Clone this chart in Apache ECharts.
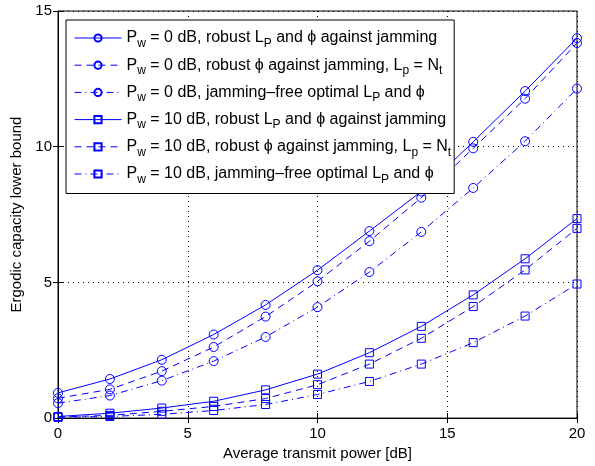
<!DOCTYPE html>
<html>
<head>
<meta charset="utf-8">
<script src="https://cdn.jsdelivr.net/npm/echarts@6/dist/echarts.min.js"></script>
<style>
  html, body { margin: 0; padding: 0; background: #fff; }
  #chart { width: 595px; height: 466px; }
</style>
</head>
<body>
<div id="chart"></div>
<script>
// transmit power axis (dB)
var powerDb = [0, 2, 4, 6, 8, 10, 12, 14, 16, 18, 20];

// P_w = 0 dB
var pw0Robust = [0.93, 1.44, 2.15, 3.08, 4.17, 5.45, 6.89, 8.35, 10.18, 12.05, 14.0];
var pw0Fixed  = [0.73, 1.06, 1.73, 2.62, 3.74, 5.04, 6.52, 8.12, 9.94, 11.77, 13.82];
var pw0Free   = [0.55, 0.83, 1.38, 2.10, 2.99, 4.09, 5.38, 6.86, 8.48, 10.20, 12.14];
// P_w = 10 dB
var pw10Robust = [0.06, 0.18, 0.37, 0.62, 1.04, 1.62, 2.41, 3.38, 4.54, 5.87, 7.35];
var pw10Fixed  = [0.04, 0.10, 0.25, 0.43, 0.72, 1.23, 1.99, 2.94, 4.11, 5.46, 6.99];
var pw10Free   = [0.03, 0.06, 0.14, 0.28, 0.50, 0.87, 1.35, 1.99, 2.78, 3.76, 4.94];

var seriesNames = [
  'P_w = 0 dB, robust L_P and \u03d5 against jamming',
  'P_w = 0 dB, robust \u03d5 against jamming, L_p = N_t',
  'P_w = 0 dB, jamming\u2013free optimal L_P and \u03d5',
  'P_w = 10 dB, robust L_P and \u03d5 against jamming',
  'P_w = 10 dB, robust \u03d5 against jamming, L_p = N_t',
  'P_w = 10 dB, jamming\u2013free optimal L_P and \u03d5'
];

var FONT = '"Liberation Sans", Arial, Helvetica, sans-serif';
var BLUE = '#0000ff';
var DASH = [7, 5];
var DASHDOT = [7, 4, 1, 4];

function makeSeries(name, values, symbol, dash) {
  return {
    name: name,
    type: 'line',
    data: powerDb.map(function (x, i) { return [x, values[i]]; }),
    symbol: symbol,
    symbolSize: symbol === 'circle' ? 9 : 8,
    showSymbol: true,
    animation: false,
    lineStyle: { color: BLUE, width: 1, type: dash },
    itemStyle: { color: 'rgba(0,0,0,0)', borderColor: BLUE, borderWidth: 1 }
  };
}

var chart = echarts.init(document.getElementById('chart'));

var option = {
  backgroundColor: '#fff',
  textStyle: { fontFamily: FONT },
  grid: {
    left: 58, right: 18, top: 11, bottom: 45,
    show: true, borderColor: '#000', borderWidth: 1
  },
  legend: {
    orient: 'vertical',
    left: 66,
    top: 20,
    data: seriesNames,
    backgroundColor: '#fff',
    borderColor: '#000',
    borderWidth: 1,
    borderRadius: 0,
    padding: [10, 3, 8, 8],
    itemWidth: 47,
    itemHeight: 9,
    itemGap: 7.7,
    lineStyle: { width: 1 },
    formatter: function (name) {
      return name.replace(/_(\w)/g, '{s|$1}');
    },
    textStyle: {
      fontFamily: FONT,
      fontSize: 16,
      color: '#000',
      rich: {
        s: { fontFamily: FONT, fontSize: 12, color: '#000', padding: [11, 0, 0, 0] }
      }
    }
  },
  xAxis: [{
    type: 'value',
    min: 0, max: 20, interval: 5,
    name: 'Average transmit power [dB]',
    nameLocation: 'middle',
    nameGap: 27,
    nameTextStyle: { fontFamily: FONT, fontSize: 15, color: '#000' },
    axisLine: { show: true, lineStyle: { color: '#000' } },
    axisTick: { inside: true, length: 5, lineStyle: { color: '#000' } },
    axisLabel: { fontFamily: FONT, fontSize: 15, color: '#000', margin: 8 },
    splitLine: { show: true, lineStyle: { color: '#000', type: [1, 4], width: 1 } }
  }, {
    type: 'value',
    position: 'top',
    min: 0, max: 20, interval: 5,
    axisLine: { show: false },
    axisTick: { inside: true, length: 5, lineStyle: { color: '#000' } },
    axisLabel: { show: false },
    splitLine: { show: false }
  }],
  yAxis: [{
    type: 'value',
    min: 0, max: 15, interval: 5,
    name: 'Ergodic capacity lower bound',
    nameLocation: 'middle',
    nameGap: 31,
    nameTextStyle: { fontFamily: FONT, fontSize: 15, color: '#000' },
    axisLine: { show: true, lineStyle: { color: '#000' } },
    axisTick: { inside: true, length: 5, lineStyle: { color: '#000' } },
    axisLabel: { fontFamily: FONT, fontSize: 15, color: '#000', margin: 6 },
    splitLine: { show: true, lineStyle: { color: '#000', type: [1, 4], width: 1 } }
  }, {
    type: 'value',
    position: 'right',
    min: 0, max: 15, interval: 5,
    axisLine: { show: false },
    axisTick: { inside: true, length: 5, lineStyle: { color: '#000' } },
    axisLabel: { show: false },
    splitLine: { show: false }
  }],
  series: [
    makeSeries(seriesNames[0], pw0Robust, 'circle', 'solid'),
    makeSeries(seriesNames[1], pw0Fixed, 'circle', DASH),
    makeSeries(seriesNames[2], pw0Free, 'circle', DASHDOT),
    makeSeries(seriesNames[3], pw10Robust, 'rect', 'solid'),
    makeSeries(seriesNames[4], pw10Fixed, 'rect', DASH),
    makeSeries(seriesNames[5], pw10Free, 'rect', DASHDOT)
  ]
};

chart.setOption(option);
</script>
</body>
</html>
